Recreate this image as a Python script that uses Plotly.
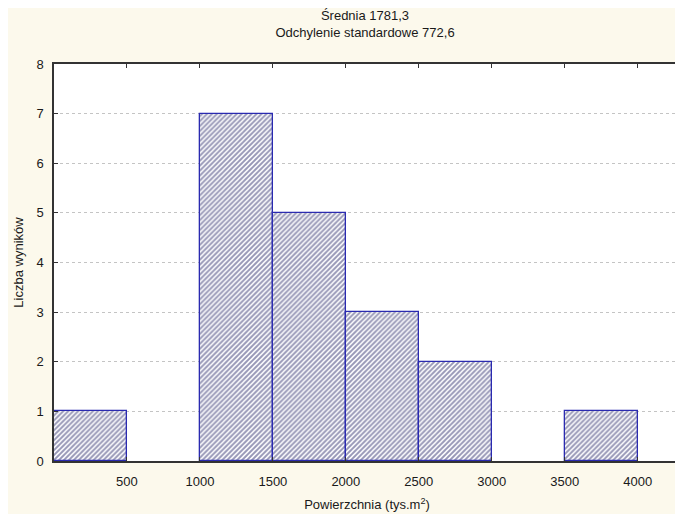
import plotly.graph_objects as go

bin_start = [0, 1000, 1500, 2000, 2500, 3500]
bin_width = 500
counts = [1, 7, 5, 3, 2, 1]
x_ticks = [500, 1000, 1500, 2000, 2500, 3000, 3500, 4000]
y_ticks = [0, 1, 2, 3, 4, 5, 6, 7, 8]

FONT = "Liberation Sans, Arial, sans-serif"
W, H = 675, 506

fig = go.Figure()
fig.add_trace(go.Bar(
    x=[s + bin_width / 2 for s in bin_start],
    y=counts,
    width=bin_width,
    marker=dict(
        color="white",
        line=dict(color="#2a2ab0", width=1.3),
        pattern=dict(shape="/", fgcolor="#30306e", bgcolor="white", size=3.5, solidity=0.55),
    ),
    showlegend=False,
))

fig.update_layout(
    width=W, height=H,
    margin=dict(l=46, r=3, t=56, b=53, autoexpand=False),
    paper_bgcolor="#fcf9ec",
    plot_bgcolor="white",
    font=dict(family=FONT, size=13, color="#1a1a1a"),
    title=dict(
        text="Średnia 1781,3<br>Odchylenie standardowe 772,6",
        x=357 / W, xanchor="center",
        y=1 - 12 / H, yanchor="top",
        font=dict(family=FONT, size=13, color="#1a1a1a"),
    ),
    bargap=0,
    xaxis=dict(
        range=[0, 4290],
        tickvals=x_ticks,
        ticks="inside", ticklen=4, tickcolor="#333",
        showline=True, linecolor="#333", linewidth=1.5, mirror="ticks",
        showgrid=False, zeroline=False, automargin=False,
        ticklabelstandoff=8,
        title=dict(text="Powierzchnia (tys.m<sup>2</sup>)", standoff=12,
                   font=dict(family=FONT, size=13)),
        tickfont=dict(family=FONT, size=13),
    ),
    yaxis=dict(
        range=[0, 8],
        tickvals=y_ticks,
        ticks="inside", ticklen=4, tickcolor="#333",
        showline=True, linecolor="#333", linewidth=1.5, mirror="ticks",
        showgrid=True, gridcolor="#c4c4c4", griddash="dot", gridwidth=1,
        zeroline=False, automargin=False,
        ticklabelstandoff=6,
        title=dict(text="Liczba wyników", standoff=10,
                   font=dict(family=FONT, size=13)),
        tickfont=dict(family=FONT, size=13),
    ),
)

fig.write_html("out.html")
